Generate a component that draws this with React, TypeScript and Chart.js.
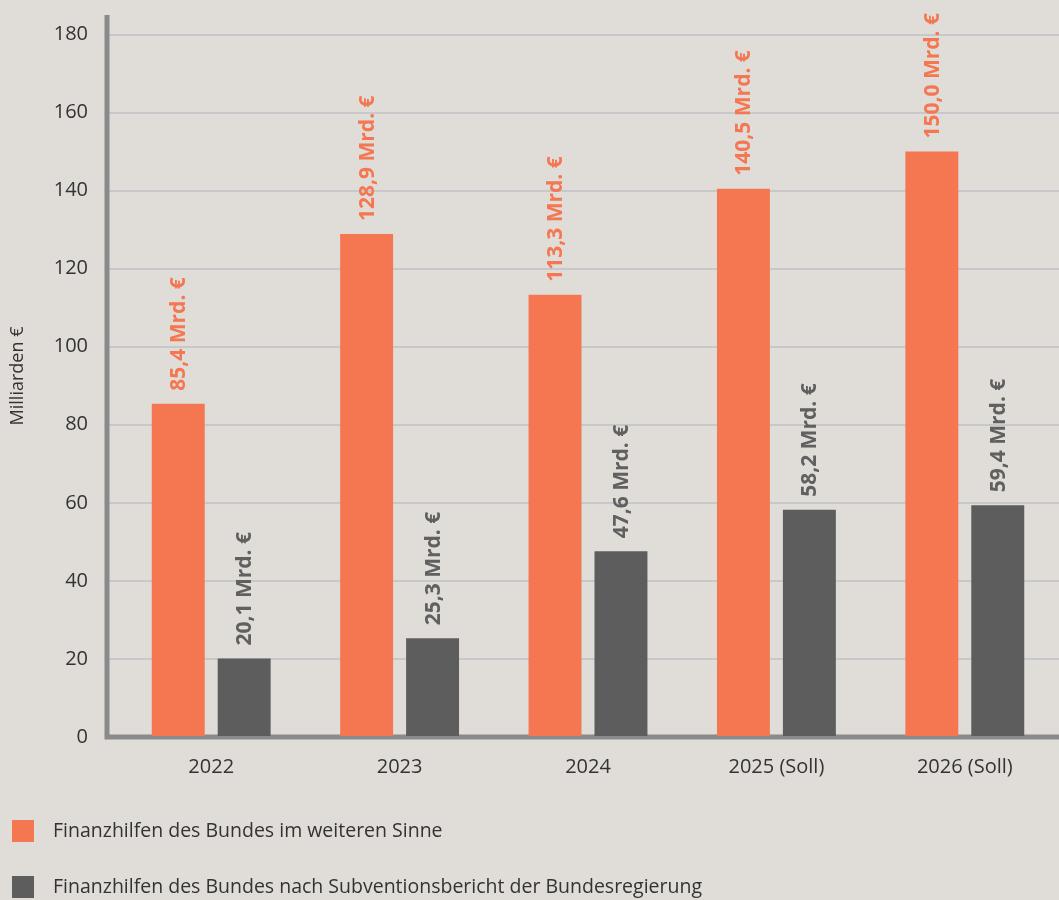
import React, { useEffect, useRef } from "react";
import { Chart, registerables } from "chart.js";

Chart.register(...registerables);

const categories = ["2022", "2023", "2024", "2025 (Soll)", "2026 (Soll)"];
const seriesNames = [
  "Finanzhilfen des Bundes im weiteren Sinne",
  "Finanzhilfen des Bundes nach Subventionsbericht der Bundesregierung",
];
const weitererSinne = [85.4, 128.9, 113.3, 140.5, 150.0];
const subventionsbericht = [20.1, 25.3, 47.6, 58.2, 59.4];
const yTicks = [0, 20, 40, 60, 80, 100, 120, 140, 160, 180];
const yTitle = "Milliarden €";

const BG = "#e0ddd8";
const ORANGE = "#f47751";
const DARK = "#5c5d5c";
const DARK_LABEL = "#5f605f";
const AXIS = "#8a8a8c";
const GRID = "#c8c8cb";
const TEXT = "#333333";
const FONT = "'Open Sans'";

const fmt = (v: number) => v.toFixed(1).replace(".", ",") + " Mrd. €";

const axisLines = {
  id: "axisLines",
  beforeDatasetsDraw(chart: any) {
    const { ctx, chartArea } = chart;
    ctx.save();
    ctx.strokeStyle = AXIS;
    ctx.lineWidth = 5;
    ctx.beginPath();
    ctx.moveTo(chartArea.left - 10, chartArea.top);
    ctx.lineTo(chartArea.left - 10, chartArea.bottom + 2.5);
    ctx.moveTo(chartArea.left - 12.5, chartArea.bottom);
    ctx.lineTo(chartArea.right, chartArea.bottom);
    ctx.stroke();
    ctx.restore();
  },
};

const barLabels = {
  id: "barLabels",
  afterDatasetsDraw(chart: any) {
    const { ctx } = chart;
    ctx.save();
    ctx.font = `bold 21px ${FONT}`;
    ctx.textAlign = "left";
    ctx.textBaseline = "middle";
    chart.data.datasets.forEach((ds: any, di: number) => {
      const meta = chart.getDatasetMeta(di);
      meta.data.forEach((bar: any, i: number) => {
        ctx.save();
        ctx.translate(bar.x + 1, bar.y - 13);
        ctx.rotate(-Math.PI / 2);
        ctx.fillStyle = ds.labelColor;
        ctx.fillText(fmt(ds.data[i]), 0, 0);
        ctx.restore();
      });
    });
    ctx.restore();
  },
};

const customLegend = {
  id: "customLegend",
  afterDraw(chart: any) {
    const { ctx } = chart;
    ctx.save();
    ctx.font = `19.5px ${FONT}`;
    ctx.textBaseline = "middle";
    ctx.textAlign = "left";
    chart.data.datasets.forEach((ds: any, i: number) => {
      const cy = 831 + i * 56;
      ctx.fillStyle = ds.backgroundColor;
      ctx.fillRect(12, cy - 11, 22, 22);
      ctx.fillStyle = TEXT;
      ctx.fillText(ds.label, 53, cy);
    });
    ctx.restore();
  },
};

export default function App() {
  const ref = useRef<HTMLCanvasElement | null>(null);
  useEffect(() => {
    document.body.style.margin = "0";
    document.body.style.background = BG;
    const chart = new Chart(ref.current!, {
      type: "bar",
      data: {
        labels: categories,
        datasets: [
          {
            label: seriesNames[0],
            data: weitererSinne,
            backgroundColor: ORANGE,
            labelColor: ORANGE,
          } as any,
          {
            label: seriesNames[1],
            data: subventionsbericht,
            backgroundColor: DARK,
            labelColor: DARK_LABEL,
          } as any,
        ],
      },
      options: {
        animation: false,
        responsive: false,
        layout: { padding: { top: 15, bottom: 113, left: 0, right: 0 } },
        datasets: {
          bar: { categoryPercentage: 0.7, barPercentage: 0.803 },
        },
        plugins: {
          legend: { display: false },
          tooltip: { enabled: false },
        },
        scales: {
          x: {
            offset: true,
            grid: { display: false, drawTicks: false },
            border: { display: false },
            ticks: { color: TEXT, font: { family: FONT, size: 20 }, padding: 18 },
            afterFit: (s: any) => { s.height = 50; s.paddingLeft = 0; s.paddingRight = 0; },
          },
          y: {
            min: 0,
            max: 185,
            afterBuildTicks: (s: any) => { s.ticks = yTicks.map((v) => ({ value: v })); },
            grid: { color: GRID, lineWidth: 2, drawTicks: true, tickLength: 10 },
            border: { display: false },
            ticks: { color: TEXT, font: { family: FONT, size: 20 }, padding: 19 },
            title: {
              display: true,
              text: yTitle,
              color: TEXT,
              font: { family: FONT, size: 18 },
              padding: { top: 7, bottom: 0 },
            },
            afterFit: (s: any) => { s.width = 117; s.paddingTop = 0; s.paddingBottom = 0; },
          },
        },
      },
      plugins: [axisLines, barLabels, customLegend],
    });
    return () => chart.destroy();
  }, []);
  return (
    <div style={{ width: 1059, height: 900, background: BG }}>
      <canvas ref={ref} width={1059} height={900} style={{ display: "block" }} />
    </div>
  );
}
